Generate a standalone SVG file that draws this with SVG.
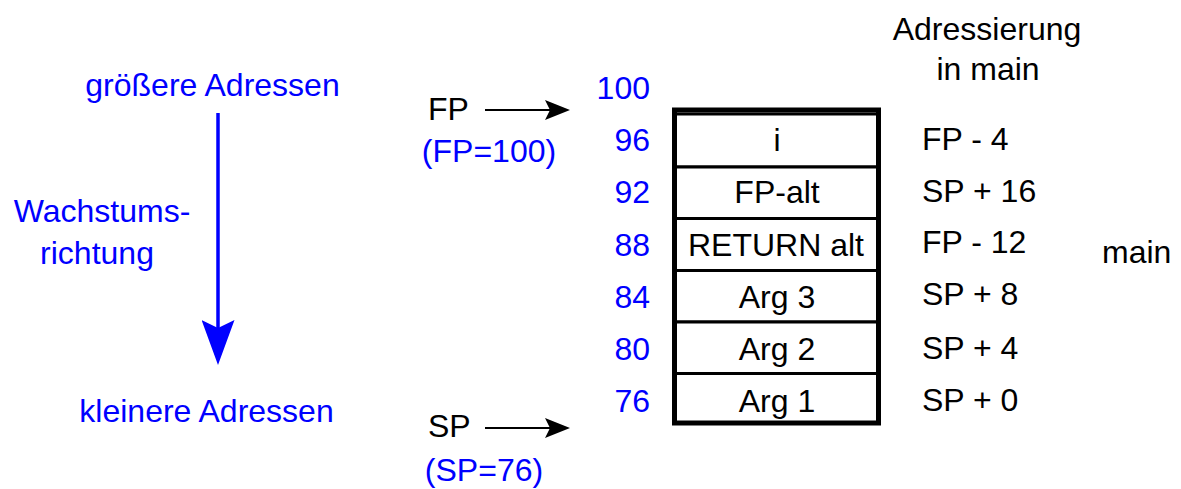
<svg xmlns="http://www.w3.org/2000/svg" width="1181" height="489" viewBox="0 0 1181 489">
<style>
text { font-family: "Liberation Sans", Arial, sans-serif; font-size: 32px; }
.blue { fill: #0000ff; }
.blk { fill: #000; }
.mid { text-anchor: middle; }
.end { text-anchor: end; }
.cell rect { fill: #fff; stroke: #000; stroke-width: 3; }
.frame { fill: none; stroke: #000; stroke-width: 5; }
.ptr { stroke: #000; stroke-width: 2; fill: none; }
.grow { stroke: #0000ff; stroke-width: 3.5; fill: none; }
</style>
<defs>
<marker id="ah" markerUnits="userSpaceOnUse" markerWidth="25" markerHeight="20" refX="5" refY="10" orient="auto">
<path d="M0,0 L25,10 L0,20 L5,10 z" fill="#000"/>
</marker>
<marker id="ahb" markerUnits="userSpaceOnUse" markerWidth="45" markerHeight="33" refX="8" refY="16.5" orient="auto">
<path d="M0,0 L45,16.5 L0,33 L8,16.5 z" fill="#0000ff"/>
</marker>
</defs>

<g id="label-groesser"><text class="blue mid" x="212.5" y="96">größere Adressen</text></g>
<g id="label-wachstum">
<text class="blue mid" x="102" y="222">Wachstums-</text>
<text class="blue mid" x="97" y="264">richtung</text>
</g>
<g id="label-kleiner"><text class="blue mid" x="206.5" y="422">kleinere Adressen</text></g>

<g id="fp"><text class="blk" x="428" y="120">FP</text><text class="blue mid" x="489" y="162">(FP=100)</text></g>
<g id="sp"><text class="blk" x="428" y="437">SP</text><text class="blue mid" x="484" y="481">(SP=76)</text></g>

<g id="addresses">
<text class="blue end" x="650" y="99">100</text>
<text class="blue end" x="650" y="151">96</text>
<text class="blue end" x="650" y="203">92</text>
<text class="blue end" x="650" y="256">88</text>
<text class="blue end" x="650" y="308">84</text>
<text class="blue end" x="650" y="360">80</text>
<text class="blue end" x="650" y="412">76</text>
</g>

<g id="header"><text class="blk mid" x="987" y="40">Adressierung</text><text class="blk mid" x="988" y="80">in main</text></g>

<g id="cell-i" class="cell"><rect x="675" y="114" width="203" height="53"/><text class="blk mid" x="777" y="151">i</text></g>
<g id="cell-fpalt" class="cell"><rect x="675" y="167" width="203" height="51.5"/><text class="blk mid" x="777" y="203">FP-alt</text></g>
<g id="cell-return" class="cell"><rect x="675" y="218.5" width="203" height="52"/><text class="blk mid" x="776" y="256">RETURN alt</text></g>
<g id="cell-arg3" class="cell"><rect x="675" y="270.5" width="203" height="51.5"/><text class="blk mid" x="777" y="308">Arg 3</text></g>
<g id="cell-arg2" class="cell"><rect x="675" y="322" width="203" height="51.5"/><text class="blk mid" x="777" y="360">Arg 2</text></g>
<g id="cell-arg1" class="cell"><rect x="675" y="373.5" width="203" height="49.5"/><text class="blk mid" x="777" y="412">Arg 1</text></g>
<g id="frame"><rect class="frame" x="674.5" y="110" width="204" height="313"/></g>

<g id="access">
<text class="blk" x="922" y="150">FP - 4</text>
<text class="blk" x="922" y="202">SP + 16</text>
<text class="blk" x="922" y="253">FP - 12</text>
<text class="blk" x="922" y="305">SP + 8</text>
<text class="blk" x="922" y="359">SP + 4</text>
<text class="blk" x="922" y="411">SP + 0</text>
</g>
<g id="label-main"><text class="blk" x="1102" y="263">main</text></g>

<g id="connectors">
<line class="ptr" x1="485" y1="110" x2="550" y2="110" marker-end="url(#ah)"/>
<line class="ptr" x1="485" y1="428" x2="550" y2="428" marker-end="url(#ah)"/>
<line class="grow" x1="218" y1="113" x2="218" y2="328" marker-end="url(#ahb)"/>
</g>
</svg>
